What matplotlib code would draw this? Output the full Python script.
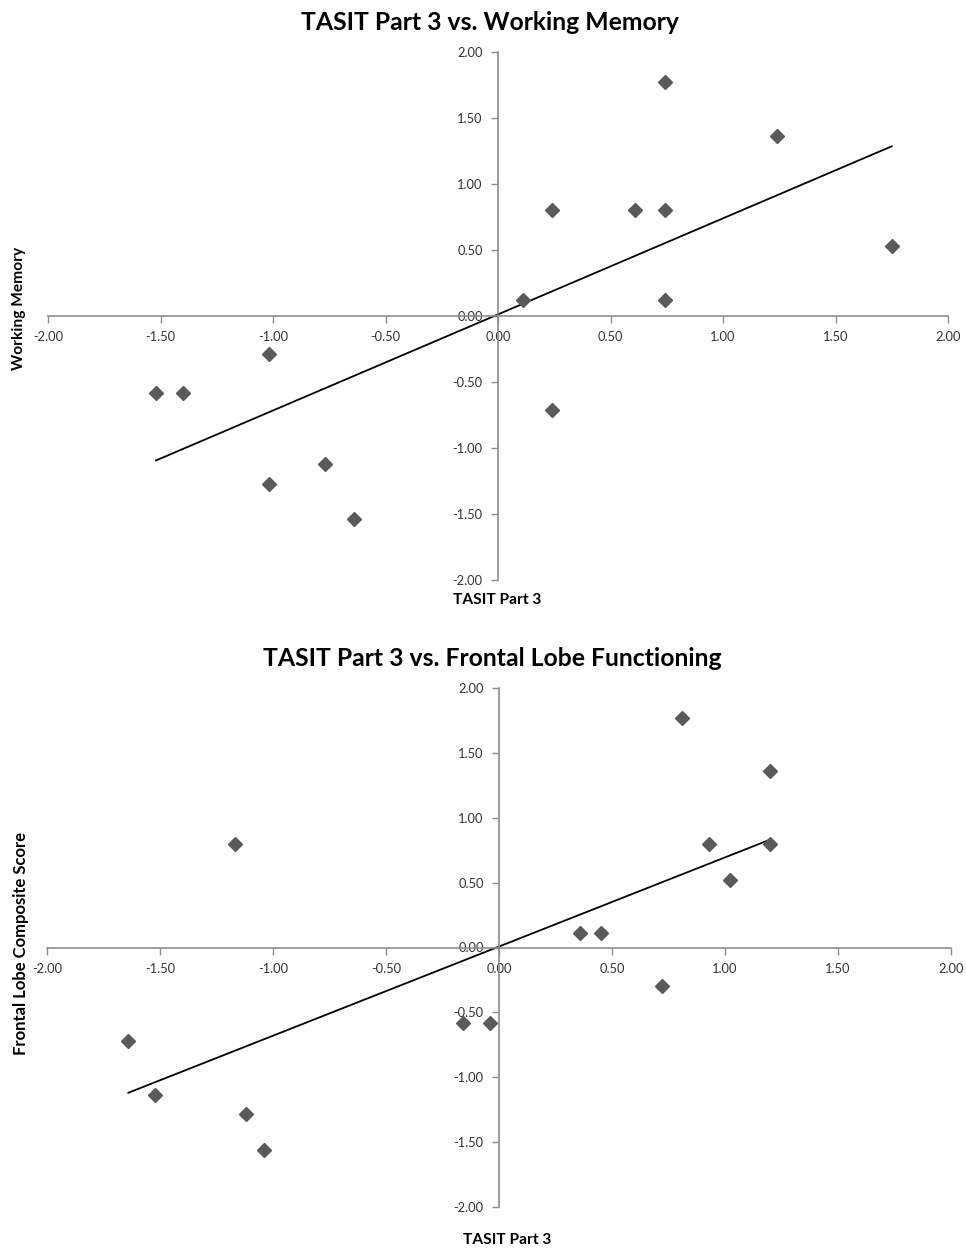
import numpy as np
import matplotlib
matplotlib.use("Agg")
import matplotlib.pyplot as plt

plt.rcParams['font.family'] = ['Lato', 'DejaVu Sans']

# TASIT Part 3 vs. Working Memory
wm_x = [-1.52, -1.40, -1.02, -1.02, -0.77, -0.64, 0.11, 0.24, 0.24,
        0.61, 0.74, 0.74, 0.74, 1.24, 1.75]
wm_y = [-0.58, -0.58, -0.29, -1.27, -1.12, -1.54, 0.12, 0.80, -0.71,
        0.80, 0.80, 1.77, 0.12, 1.36, 0.53]

# TASIT Part 3 vs. Frontal Lobe Functioning
fl_x = [-1.64, -1.52, -1.17, -1.12, -1.04, -0.16, -0.04, 0.36, 0.45,
        0.72, 0.81, 0.93, 1.02, 1.20, 1.20]
fl_y = [-0.72, -1.14, 0.80, -1.28, -1.56, -0.58, -0.58, 0.11, 0.11,
        -0.30, 1.77, 0.80, 0.52, 1.36, 0.80]

ticks = [-2.0, -1.5, -1.0, -0.5, 0.0, 0.5, 1.0, 1.5, 2.0]
tick_labels = ["%.2f" % t for t in ticks]

W, H = 966, 1249
fig = plt.figure(figsize=(W / 100, H / 100), dpi=100)


def px_axes(left, top, right, bottom):
    return fig.add_axes([left / W, 1 - bottom / H, (right - left) / W, (bottom - top) / H])


def draw(ax, x, y):
    ax.set_xlim(-2, 2)
    ax.set_ylim(-2, 2)
    for side in ['top', 'right']:
        ax.spines[side].set_visible(False)
    for side in ['left', 'bottom']:
        ax.spines[side].set_position(('data', 0))
        ax.spines[side].set_color('#8c8c8c')
        ax.spines[side].set_linewidth(1.2)
    ax.set_xticks(ticks)
    ax.set_yticks(ticks)
    ax.set_xticklabels(tick_labels)
    ax.set_yticklabels(tick_labels)
    ax.tick_params(direction='out', length=5, width=1, color='#8c8c8c',
                   labelsize=9.3, labelcolor='#333333', pad=6)
    ax.plot(x, y, linestyle='none', marker='D', markersize=7.5,
            color='#5a5a5a', zorder=3)
    # linear trendline, as in Excel
    slope, icpt = np.polyfit(x, y, 1)
    xs = np.array([min(x), max(x)])
    ax.plot(xs, slope * xs + icpt, color='black', linewidth=1.3, zorder=2)
    ax.patch.set_alpha(0)


ax1 = px_axes(48, 52, 948, 580)
draw(ax1, wm_x, wm_y)
ax2 = px_axes(47, 688, 951, 1207)
draw(ax2, fl_x, fl_y)

fig.text(490 / W, 1 - 22 / H, "TASIT Part 3 vs. Working Memory", ha='center', va='center',
         fontsize=17.8, fontweight='bold')
fig.text(492 / W, 1 - 658 / H, "TASIT Part 3 vs. Frontal Lobe Functioning", ha='center',
         va='center', fontsize=17.8, fontweight='bold')
fig.text(497 / W, 1 - 600 / H, "TASIT Part 3", ha='center', va='center',
         fontsize=11.2, fontweight='bold')
fig.text(507 / W, 1 - 1240 / H, "TASIT Part 3", ha='center', va='center',
         fontsize=11.2, fontweight='bold')
fig.text(19 / W, 1 - 308 / H, "Working Memory", ha='center', va='center',
         rotation=90, fontsize=11.2, fontweight='bold')
fig.text(21 / W, 1 - 943 / H, "Frontal Lobe Composite Score", ha='center', va='center',
         rotation=90, fontsize=12, fontweight='bold')

fig.savefig("out.png", dpi=100)
